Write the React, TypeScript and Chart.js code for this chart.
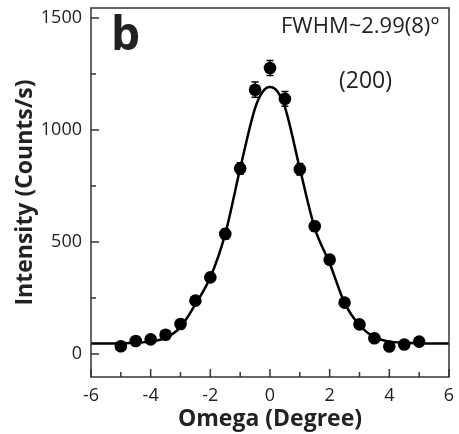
import React, { useEffect, useRef } from 'react';
import { Chart, registerables } from 'chart.js';

Chart.register(...registerables);

// Measured data points (Omega in degrees, intensity in counts/s)
const omega = [-5, -4.5, -4, -3.5, -3, -2.5, -2, -1.5, -1, -0.5, 0, 0.5, 1, 1.5, 2, 2.5, 3, 3.5, 4, 4.5, 5];
const intensity = [34, 58, 65, 86, 134, 238, 342, 536, 828, 1180, 1277, 1139, 825, 570, 421, 229, 132, 70, 33, 42, 55];
const errors = [6, 8, 8, 9, 12, 15, 19, 23, 26, 34, 34, 33, 26, 22, 19, 15, 11, 8, 6, 6, 7];

// Fit curve
const fitOmega = [-6, -5.5, -5, -4.5, -4, -3.5, -3, -2.5, -2, -1.5, -1, -0.5, -0.25, 0, 0.25, 0.5, 1, 1.5, 2, 2.5, 3, 3.5, 4, 4.5, 5, 5.5, 6];
const fitIntensity = [47, 47, 48, 50, 55, 72, 120, 222, 342, 536, 828, 1098, 1170, 1192, 1172, 1102, 828, 562, 405, 228, 128, 75, 55, 50, 48, 47, 47];

const xMajorTicks = [-6, -4, -2, 0, 2, 4, 6];
const xMinorTicks = [-5, -3, -1, 1, 3, 5];
const yMajorTicks = [0, 500, 1000, 1500];
const yMinorTicks = [250, 750, 1250];

const panelLabel = 'b';
const fwhmLabel = 'FWHM~2.99(8)°';
const planeLabel = '(200)';
const xTitle = 'Omega (Degree)';
const yTitle = 'Intensity (Counts/s)';

const FONT = '"Open Sans", "Noto Sans", sans-serif';
const TEXT = '#222';

const decorPlugin = {
  id: 'decor',
  beforeDatasetsDraw(chart: any) {
    const { ctx, scales } = chart;
    const x = scales.x;
    const y = scales.y;
    ctx.save();
    ctx.strokeStyle = '#000';
    ctx.lineWidth = 1.5;
    omega.forEach((o, i) => {
      const px = x.getPixelForValue(o);
      const top = y.getPixelForValue(intensity[i] + errors[i]);
      const bot = y.getPixelForValue(intensity[i] - errors[i]);
      ctx.beginPath();
      ctx.moveTo(px, top);
      ctx.lineTo(px, bot);
      ctx.moveTo(px - 3.5, top);
      ctx.lineTo(px + 3.5, top);
      ctx.moveTo(px - 3.5, bot);
      ctx.lineTo(px + 3.5, bot);
      ctx.stroke();
    });
    ctx.restore();
  },
  afterDraw(chart: any) {
    const { ctx, chartArea, scales } = chart;
    const x = scales.x;
    const y = scales.y;
    const { left, right, top, bottom } = chartArea;
    ctx.save();
    ctx.strokeStyle = '#333';
    ctx.lineWidth = 1.5;
    ctx.strokeRect(left, top, right - left, bottom - top);
    ctx.beginPath();
    xMajorTicks.forEach((v) => {
      const px = x.getPixelForValue(v);
      ctx.moveTo(px, bottom);
      ctx.lineTo(px, bottom - 8);
    });
    xMinorTicks.forEach((v) => {
      const px = x.getPixelForValue(v);
      ctx.moveTo(px, bottom);
      ctx.lineTo(px, bottom - 5);
    });
    yMajorTicks.forEach((v) => {
      const py = y.getPixelForValue(v);
      ctx.moveTo(left, py);
      ctx.lineTo(left + 8, py);
    });
    yMinorTicks.forEach((v) => {
      const py = y.getPixelForValue(v);
      ctx.moveTo(left, py);
      ctx.lineTo(left + 5, py);
    });
    ctx.stroke();

    ctx.fillStyle = TEXT;
    ctx.textAlign = 'left';
    ctx.textBaseline = 'alphabetic';
    ctx.font = `bold 46px ${FONT}`;
    ctx.fillText(panelLabel, left + 20, top + 42);
    ctx.font = `22px ${FONT}`;
    ctx.fillText(fwhmLabel, left + 190, top + 25);
    ctx.font = `23px ${FONT}`;
    ctx.fillText(planeLabel, left + 248, top + 80);
    ctx.restore();
  },
};

export default function App() {
  const ref = useRef<HTMLCanvasElement>(null);
  useEffect(() => {
    if (!ref.current) return;
    const chart = new Chart(ref.current, {
      type: 'scatter',
      data: {
        datasets: [
          {
            label: 'data',
            data: omega.map((o, i) => ({ x: o, y: intensity[i] })),
            showLine: false,
            pointRadius: 6.3,
            pointHoverRadius: 6.3,
            pointBackgroundColor: '#000',
            pointBorderWidth: 0,
            order: 0,
          },
          {
            label: 'fit',
            data: fitOmega.map((o, i) => ({ x: o, y: fitIntensity[i] })),
            showLine: true,
            borderColor: '#000',
            borderWidth: 2.5,
            pointRadius: 0,
            cubicInterpolationMode: 'monotone',
            order: 1,
          } as any,
        ],
      },
      options: {
        animation: false,
        responsive: false,
        layout: { padding: { top: 8, right: 10, left: 0, bottom: 0 } },
        plugins: { legend: { display: false }, tooltip: { enabled: false } },
        scales: {
          x: {
            type: 'linear',
            min: -6,
            max: 6,
            grid: { display: false, drawTicks: false },
            border: { display: false },
            afterBuildTicks: (s: any) => {
              s.ticks = xMajorTicks.map((v) => ({ value: v }));
            },
            afterFit: (s: any) => {
              s.height = 57;
              s.paddingLeft = 0;
              s.paddingRight = 0;
            },
            ticks: {
              color: TEXT,
              font: { family: FONT, size: 18 },
              padding: 8,
              maxRotation: 0,
              callback: (v: any) => String(v),
            },
            title: {
              display: true,
              text: xTitle,
              color: TEXT,
              font: { family: FONT, size: 23, weight: 'bold' },
              padding: { top: 0, bottom: 1 },
            },
          },
          y: {
            type: 'linear',
            min: -103,
            max: 1545,
            grid: { display: false, drawTicks: false },
            border: { display: false },
            afterBuildTicks: (s: any) => {
              s.ticks = yMajorTicks.map((v) => ({ value: v }));
            },
            afterFit: (s: any) => {
              s.width = 91;
              s.paddingTop = 0;
              s.paddingBottom = 0;
            },
            ticks: {
              color: TEXT,
              font: { family: FONT, size: 18 },
              padding: 9,
              callback: (v: any) => String(v),
            },
            title: {
              display: true,
              text: yTitle,
              color: TEXT,
              font: { family: FONT, size: 23, weight: 'bold' },
              padding: { top: 12, bottom: 0 },
            },
          },
        },
      },
      plugins: [decorPlugin],
    });
    return () => chart.destroy();
  }, []);
  return (
    <div style={{ position: 'fixed', left: 0, top: 0, width: 459, height: 434, background: '#fff' }}>
      <canvas ref={ref} width={459} height={434} />
    </div>
  );
}
